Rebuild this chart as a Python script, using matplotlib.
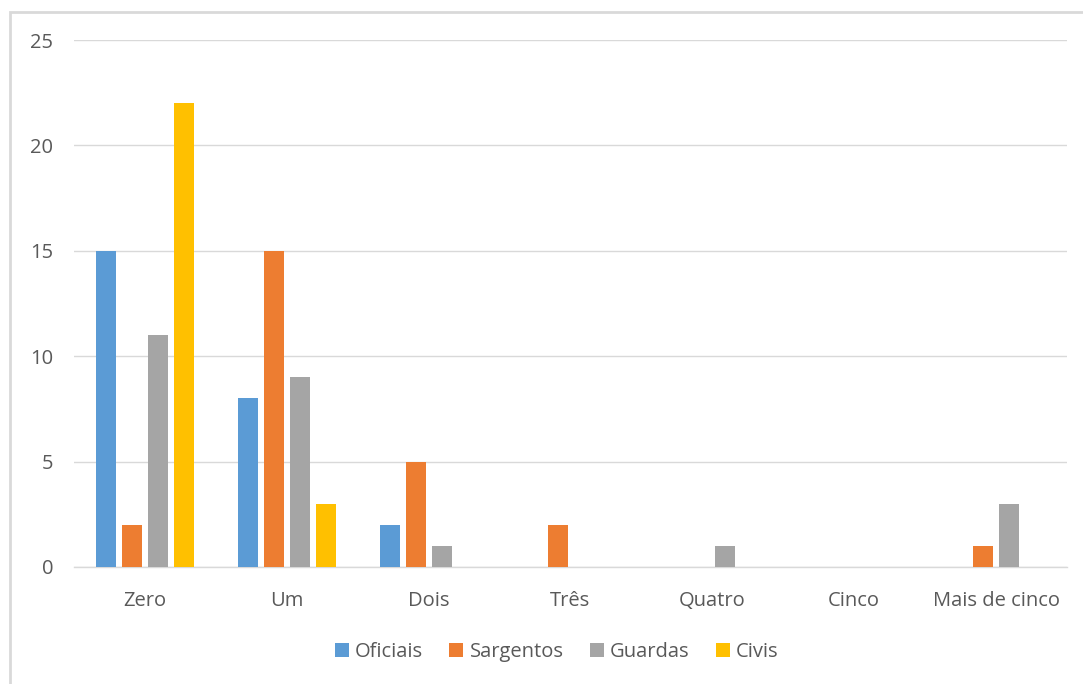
import numpy as np
import matplotlib.pyplot as plt
from matplotlib.patches import Rectangle

categorias = ['Zero', 'Um', 'Dois', 'Três', 'Quatro', 'Cinco', 'Mais de cinco']
oficiais = [15, 8, 2, 0, 0, 0, 0]
sargentos = [2, 15, 5, 2, 0, 0, 1]
guardas = [11, 9, 1, 0, 1, 0, 3]
civis = [22, 3, 0, 0, 0, 0, 0]

series = [('Oficiais', oficiais, '#5B9BD5'),
          ('Sargentos', sargentos, '#ED7D31'),
          ('Guardas', guardas, '#A5A5A5'),
          ('Civis', civis, '#FFC000')]

plt.rcParams['font.family'] = ['Open Sans', 'DejaVu Sans']
cor_texto = '#595959'

fig = plt.figure(figsize=(10.83, 6.84), dpi=100)
# moldura do grafico
fig.patches.append(Rectangle((10 / 1083, -0.1), 1.2, 1 - 12 / 684 + 0.1,
                             transform=fig.transFigure, fill=False,
                             edgecolor='#D9D9D9', linewidth=2))
ax = fig.add_axes([74 / 1083, 1 - 567 / 684, (1067 - 74) / 1083, (567 - 40) / 684])

x = np.arange(len(categorias))
largura = 20 / 142
passo = 26 / 142
for i, (nome, valores, cor) in enumerate(series):
    ax.bar(x + (i - 1.5) * passo, valores, largura, color=cor, label=nome, zorder=3)

ax.set_xlim(-0.5, len(categorias) - 0.5)
ax.set_ylim(0, 25)
ax.set_yticks(range(0, 26, 5))
ax.set_xticks(x)
ax.set_xticklabels(categorias)
ax.yaxis.grid(True, color='#D9D9D9', linewidth=1, zorder=0)
for lado in ['top', 'right', 'left']:
    ax.spines[lado].set_visible(False)
ax.spines['bottom'].set_color('#D9D9D9')
ax.spines['bottom'].set_linewidth(1)
ax.tick_params(axis='both', length=0, labelsize=14.5, colors=cor_texto)
ax.tick_params(axis='y', pad=15)
ax.tick_params(axis='x', pad=17)

ax.legend(loc='center', bbox_to_anchor=(0.486, -0.162), ncol=4, frameon=False,
          fontsize=14.5, labelcolor=cor_texto, handlelength=0.7, handleheight=0.7,
          handletextpad=0.3, columnspacing=1.3)

fig.savefig('out.png', dpi=100, facecolor='white')
